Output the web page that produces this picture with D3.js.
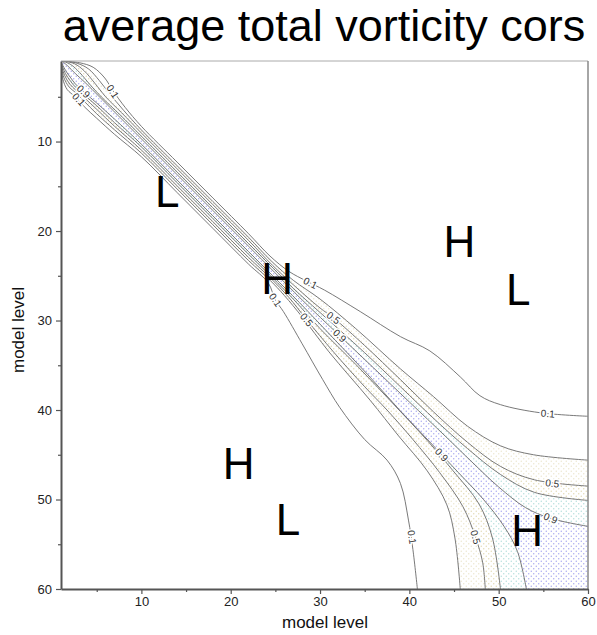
<!DOCTYPE html>
<html>
<head>
<meta charset="utf-8">
<title>average total vorticity cors</title>
<script src="https://cdn.jsdelivr.net/npm/d3@7"></script>
<style>
  body { margin: 0; background: #fff; }
  svg text { font-family: "Liberation Sans", Arial, Helvetica, sans-serif; }
</style>
</head>
<body>
<svg width="597" height="635"></svg>
<script>
// contour levels drawn
var levels = [0.1, 0.3, 0.5, 0.7, 0.9];

// contours above the diagonal, [x level, y level], top edge -> right edge
var upper01 = [[1.3,1],[3.1,1.2],[4.6,1.7],[5.9,2.9],[6.8,4.3],[8.2,6.2],[10,8.3],[14,12.3],[18,16.3],[22,20.3],[24.4,22.8],[26.5,24.5],[28.5,25.6],[30.5,26.6],[34.5,29.0],[39.0,31.8],[42.3,33.4],[45.7,36.3],[47.9,38.4],[50.2,39.4],[54.6,40.3],[60,40.7]];
var upper03 = [[1.25,1],[2.8,1.25],[4.1,1.9],[5.3,3.2],[6.4,4.6],[8.0,6.5],[10,8.7],[14,12.7],[18,16.7],[22,20.7],[24.6,23.4],[27,25.5],[30,27.6],[34,30.9],[39,35.4],[42.7,38.5],[46.5,41.8],[50.2,44.0],[53.9,45.0],[60,45.6]];
var upper05 = [[1.2,1],[2.5,1.3],[3.6,2.1],[4.8,3.5],[6,5.0],[7.8,6.8],[10,9.05],[14,13.05],[18,17.05],[22,21.05],[24.7,23.85],[27,26.0],[30,28.6],[31.5,29.7],[35,32.8],[39,36.6],[42.7,40.2],[46.5,43.6],[50.2,46.3],[54,47.8],[60,48.5]];
var upper07 = [[1.15,1],[2.1,1.4],[3.1,2.3],[4.3,3.7],[5.6,5.1],[7.6,7.0],[10,9.4],[14,13.4],[18,17.4],[22,21.4],[24.8,24.2],[27,26.4],[30,29.1],[35,33.6],[39,37.4],[43,41.2],[46.5,44.3],[50.2,47.2],[54,49.2],[60,50.1]];
var upper09 = [[1.1,1],[1.7,1.5],[2.6,2.4],[3.8,3.5],[5.2,4.9],[7.4,7.1],[10,9.7],[14,13.7],[18,17.7],[22,21.7],[24.9,24.6],[28,27.7],[32.2,31.7],[36,35.3],[40,39.1],[44,42.9],[47,45.8],[50,48.6],[53,50.9],[55.8,52.1],[60,53.0]];

// contours below the diagonal, left edge -> bottom edge
var lower01 = [[1,1.6],[1.2,3.0],[1.7,4.2],[2.6,5.0],[3.6,6.1],[5,7.4],[7,9.2],[10,11.7],[14,15.7],[18,19.7],[22,23.7],[24.2,25.8],[25.0,27.7],[25.9,29.0],[28,32.6],[30.3,36.6],[32.2,39.7],[35.0,43.3],[37.5,45.6],[39.0,48.2],[39.9,52.3],[40.4,55.6],[40.9,60]];
var lower03 = [[1,1.4],[1.3,2.8],[1.9,3.9],[2.6,4.5],[3.6,5.5],[5,6.9],[7,8.7],[10,11.3],[14,15.3],[18,19.3],[22,23.3],[24.4,25.5],[26,27.2],[28,29.6],[31,33.5],[35.6,38.9],[38.8,42.9],[42.0,46.8],[44.2,50.6],[45.1,54.3],[45.7,60]];
var lower05 = [[1,1.3],[1.4,2.6],[2.0,3.6],[2.6,4.2],[3.6,5.1],[5,6.4],[7,8.3],[10,10.95],[14,14.95],[18,18.95],[22,22.95],[24.5,25.3],[26.5,27.4],[28.5,29.9],[31.5,33.5],[35,37.4],[37.5,40.0],[40.4,43.3],[43.4,47.0],[46.0,50.8],[47.4,54.2],[48.2,57],[48.5,60]];
var lower07 = [[1,1.2],[1.5,2.4],[2.1,3.3],[2.6,3.9],[3.6,4.8],[5,6.0],[7,7.9],[10,10.6],[14,14.6],[18,18.6],[22,22.6],[24.6,25.15],[27,27.6],[30,30.9],[34,34.9],[38,39.1],[42,43.4],[44.9,46.8],[47.8,50.5],[49.3,54.3],[50.2,60]];
var lower09 = [[1,1.1],[1.6,2.2],[2.1,2.9],[2.6,3.55],[3.6,4.5],[5,5.7],[7,7.5],[10,10.3],[14,14.3],[18,18.3],[22,22.3],[24.7,25.0],[27.7,28.0],[31.7,32.2],[35.3,36.0],[38.9,40.0],[42.6,43.9],[45.5,47.0],[48.3,50.0],[50.6,53.0],[52.1,55.8],[53.1,60]];

var upperLines = [upper01, upper03, upper05, upper07, upper09];
var lowerLines = [lower01, lower03, lower05, lower07, lower09];

// contour labels: level index, side, position in model levels
var labelLevel = [0, 4, 0, 0, 2, 4, 0, 2, 0, 2, 4, 4, 0, 2];
var labelSide = ["U","D","D","U","U","U","D","D","U","U","U","D","D","D"];
var labelX = [6.8, 3.5, 3.0, 28.9, 31.5, 32.2, 25.0, 28.5, 55.5, 56.0, 55.8, 43.6, 40.3, 47.4];
var labelY = [4.4, 4.4, 5.3, 25.8, 29.7, 31.7, 27.7, 29.9, 40.4, 48.2, 52.1, 45.0, 54.2, 54.2];

// highs and lows
var hlText = ["L","H","H","L","H","L","H"];
var hlX = [12.9, 25.2, 45.6, 52.2, 20.9, 26.4, 53.2];
var hlY = [17.3, 27.0, 22.9, 28.3, 47.7, 54.0, 55.2];

var xTicks = [10, 20, 30, 40, 50, 60];
var yTicks = [10, 20, 30, 40, 50, 60];
var minorTicks = [5, 15, 25, 35, 45, 55];

var svg = d3.select("svg");
var x = d3.scaleLinear().domain([1, 60]).range([61, 588]);
var y = d3.scaleLinear().domain([1, 60]).range([61, 589]);

var defs = svg.append("defs");
defs.append("clipPath").attr("id", "plot")
  .append("rect").attr("x", x(1)).attr("y", y(1))
  .attr("width", x(60) - x(1)).attr("height", y(60) - y(1));

function dotPattern(id, color, size, r) {
  var p = defs.append("pattern").attr("id", id)
    .attr("patternUnits", "userSpaceOnUse")
    .attr("width", size).attr("height", size);
  p.append("rect").attr("width", size).attr("height", size).attr("fill", "#fff");
  p.append("circle").attr("cx", size / 4).attr("cy", size / 4).attr("r", r).attr("fill", color);
  p.append("circle").attr("cx", size * 3 / 4).attr("cy", size * 3 / 4).attr("r", r).attr("fill", color);
}
var fills = [null, "#ebe5cc", "#e0d8b0", "#b0dcda", "#a4a4ee"];
fills.forEach(function(c, i) { if (c) dotPattern("pat" + i, c, 5, 0.7); });

var line = d3.line()
  .x(function(d) { return x(d[0]); })
  .y(function(d) { return y(d[1]); })
  .curve(d3.curveCatmullRom.alpha(0.5));

var plot = svg.append("g").attr("clip-path", "url(#plot)");

// shaded regions above each level (0.3 and up)
levels.forEach(function(lv, i) {
  if (!fills[i]) return;
  var up = line(upperLines[i]);
  var lo = line(lowerLines[i].slice().reverse()).replace(/^M/, "L");
  var d = up + "L" + x(60) + "," + y(60) + lo + "L" + x(1) + "," + y(1) + "Z";
  plot.append("path").attr("d", d).attr("fill", "url(#pat" + i + ")").attr("stroke", "none");
});

// contour lines
var lines = plot.append("g").attr("fill", "none").attr("stroke", "#6a6a6a").attr("stroke-width", 0.9);
upperLines.concat(lowerLines).forEach(function(pts) {
  lines.append("path").attr("d", line(pts));
});

// contour labels, turned along their line
function angleAt(pts, lx, ly) {
  var best = 1e9, ang = 0;
  for (var k = 0; k < pts.length - 1; k++) {
    var mx = (x(pts[k][0]) + x(pts[k + 1][0])) / 2, my = (y(pts[k][1]) + y(pts[k + 1][1])) / 2;
    var dist = Math.hypot(mx - x(lx), my - y(ly));
    if (dist < best) {
      best = dist;
      ang = Math.atan2(y(pts[k + 1][1]) - y(pts[k][1]), x(pts[k + 1][0]) - x(pts[k][0])) * 180 / Math.PI;
    }
  }
  if (ang > 90) ang -= 180;
  if (ang < -90) ang += 180;
  return ang;
}
var labs = plot.append("g");
labelLevel.forEach(function(li, k) {
  var pts = labelSide[k] === "U" ? upperLines[li] : lowerLines[li];
  var a = angleAt(pts, labelX[k], labelY[k]);
  labs.append("text")
    .attr("transform", "translate(" + x(labelX[k]) + "," + y(labelY[k]) + ") rotate(" + a + ")")
    .attr("text-anchor", "middle").attr("dy", "0.35em")
    .attr("font-size", 10).attr("fill", "#333")
    .attr("stroke", "#fff").attr("stroke-width", 3).attr("paint-order", "stroke")
    .text(d3.format(".1f")(levels[li]));
});

// H / L markers
hlText.forEach(function(t, k) {
  svg.append("text").attr("x", x(hlX[k])).attr("y", y(hlY[k]))
    .attr("text-anchor", "middle").attr("font-size", 44).attr("fill", "#000")
    .text(t);
});

// frame
svg.append("line").attr("x1", x(1)).attr("x2", x(60)).attr("y1", y(1)).attr("y2", y(1))
  .attr("stroke", "#aaa").attr("stroke-width", 1);
svg.append("line").attr("x1", x(60)).attr("x2", x(60)).attr("y1", y(1)).attr("y2", y(60))
  .attr("stroke", "#888").attr("stroke-width", 1.5);

// axes
svg.append("g").attr("transform", "translate(0," + y(60) + ")")
  .call(d3.axisBottom(x).tickValues(xTicks).tickSize(5).tickSizeOuter(0).tickPadding(3));
svg.append("g").attr("transform", "translate(0," + y(60) + ")")
  .call(d3.axisBottom(x).tickValues(minorTicks).tickSize(3).tickSizeOuter(0).tickFormat(""))
  .select(".domain").remove();
svg.append("g").attr("transform", "translate(" + x(1) + ",0)")
  .call(d3.axisLeft(y).tickValues(yTicks).tickSize(5).tickSizeOuter(0).tickPadding(4));
svg.append("g").attr("transform", "translate(" + x(1) + ",0)")
  .call(d3.axisLeft(y).tickValues(minorTicks).tickSize(3).tickSizeOuter(0).tickFormat(""))
  .select(".domain").remove();
svg.selectAll(".domain").attr("stroke", "#555").attr("stroke-width", 2);
svg.selectAll(".tick line").attr("stroke", "#555").attr("stroke-width", 1.2);
svg.selectAll(".tick text").attr("font-size", 13).attr("fill", "#222")
  .attr("font-family", "'Liberation Sans', Arial, sans-serif");

// titles
svg.append("text").attr("x", 324).attr("y", 41).attr("text-anchor", "middle")
  .attr("font-size", 45).attr("fill", "#000").text("average total vorticity cors");
svg.append("text").attr("x", 325).attr("y", 628).attr("text-anchor", "middle")
  .attr("font-size", 17).attr("fill", "#111").text("model level");
svg.append("text").attr("transform", "translate(24,330) rotate(-90)").attr("text-anchor", "middle")
  .attr("font-size", 17).attr("fill", "#111").text("model level");
</script>
</body>
</html>
